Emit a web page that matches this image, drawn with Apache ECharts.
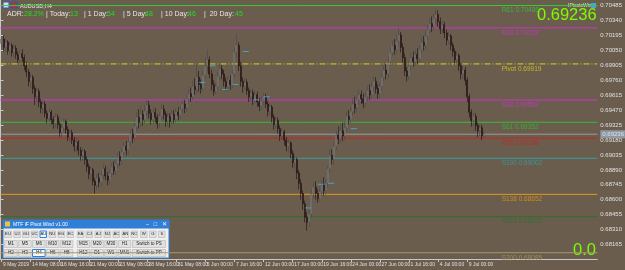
<!DOCTYPE html>
<html><head><meta charset="utf-8">
<script src="https://cdn.jsdelivr.net/npm/echarts@6/dist/echarts.min.js"></script>
<style>html,body{margin:0;padding:0;background:#6b5d4d}#c{width:625px;height:270px}</style>
</head><body><div id="c"></div>
<script>
// H4 bars: [open, close, low, high]
const ohlc = [
[0.7012,0.7016,0.7008,0.7019],[0.7016,0.7008,0.7004,0.7020],[0.7008,0.7013,0.7003,0.7017],[0.7013,0.7005,0.7001,0.7015],
[0.7005,0.7010,0.7002,0.7014],[0.7010,0.7003,0.6999,0.7012],[0.7003,0.7007,0.6999,0.7011],[0.7007,0.7001,0.6997,0.7010],
[0.7001,0.6996,0.6993,0.7004],[0.6996,0.7002,0.6993,0.7006],[0.7002,0.6998,0.6994,0.7006],[0.6998,0.6990,0.6986,0.7001],
[0.6990,0.6984,0.6979,0.6994],[0.6984,0.6975,0.6970,0.6987],[0.6975,0.6979,0.6968,0.6983],[0.6979,0.6968,0.6963,0.6981],
[0.6968,0.6960,0.6952,0.6971],[0.6960,0.6965,0.6955,0.6969],[0.6965,0.6955,0.6950,0.6968],[0.6955,0.6949,0.6944,0.6958],
[0.6949,0.6953,0.6943,0.6957],[0.6953,0.6944,0.6940,0.6956],[0.6944,0.6939,0.6934,0.6947],[0.6939,0.6945,0.6935,0.6949],
[0.6945,0.6938,0.6933,0.6947],[0.6938,0.6934,0.6929,0.6941],[0.6934,0.6940,0.6930,0.6944],[0.6940,0.6933,0.6929,0.6943],
[0.6933,0.6925,0.6921,0.6936],[0.6925,0.6930,0.6921,0.6934],[0.6930,0.6936,0.6926,0.6939],[0.6936,0.6928,0.6924,0.6938],
[0.6928,0.6921,0.6917,0.6931],[0.6921,0.6925,0.6916,0.6928],[0.6925,0.6918,0.6914,0.6928],[0.6918,0.6912,0.6907,0.6921],
[0.6912,0.6916,0.6906,0.6920],[0.6916,0.6908,0.6903,0.6918],[0.6908,0.6903,0.6898,0.6911],[0.6903,0.6907,0.6898,0.6911],
[0.6907,0.6899,0.6894,0.6909],[0.6899,0.6892,0.6887,0.6902],[0.6892,0.6885,0.6880,0.6895],[0.6885,0.6889,0.6879,0.6893],
[0.6889,0.6878,0.6874,0.6891],[0.6878,0.6874,0.6866,0.6881],[0.6874,0.6881,0.6870,0.6885],[0.6881,0.6877,0.6872,0.6886],
[0.6877,0.6884,0.6873,0.6888],[0.6884,0.6890,0.6880,0.6895],[0.6890,0.6883,0.6879,0.6893],[0.6883,0.6879,0.6874,0.6887],
[0.6879,0.6886,0.6875,0.6890],[0.6886,0.6892,0.6882,0.6896],[0.6892,0.6888,0.6884,0.6897],[0.6888,0.6895,0.6884,0.6899],
[0.6895,0.6902,0.6891,0.6906],[0.6902,0.6898,0.6893,0.6907],[0.6898,0.6906,0.6894,0.6910],[0.6906,0.6912,0.6902,0.6916],
[0.6912,0.6908,0.6903,0.6917],[0.6908,0.6916,0.6904,0.6920],[0.6916,0.6924,0.6912,0.6928],[0.6924,0.6920,0.6915,0.6929],
[0.6920,0.6931,0.6917,0.6935],[0.6931,0.6940,0.6927,0.6945],[0.6940,0.6935,0.6929,0.6948],[0.6935,0.6943,0.6931,0.6951],
[0.6943,0.6938,0.6932,0.6947],[0.6938,0.6946,0.6934,0.6952],[0.6946,0.6952,0.6941,0.6957],[0.6952,0.6944,0.6939,0.6956],
[0.6944,0.6938,0.6933,0.6948],[0.6938,0.6945,0.6934,0.6950],[0.6945,0.6940,0.6935,0.6949],[0.6940,0.6934,0.6929,0.6943],
[0.6934,0.6941,0.6930,0.6945],[0.6941,0.6948,0.6937,0.6953],[0.6948,0.6943,0.6938,0.6952],[0.6943,0.6936,0.6931,0.6946],
[0.6936,0.6941,0.6932,0.6945],[0.6941,0.6936,0.6930,0.6944],[0.6936,0.6943,0.6933,0.6947],[0.6943,0.6938,0.6934,0.6947],
[0.6938,0.6945,0.6935,0.6949],[0.6945,0.6942,0.6937,0.6950],[0.6942,0.6948,0.6939,0.6952],[0.6948,0.6953,0.6944,0.6956],
[0.6953,0.6949,0.6944,0.6957],[0.6949,0.6958,0.6946,0.6962],[0.6958,0.6963,0.6953,0.6967],[0.6963,0.6960,0.6955,0.6969],
[0.6960,0.6970,0.6957,0.6976],[0.6970,0.6967,0.6962,0.6978],[0.6967,0.6979,0.6963,0.6993],[0.6979,0.6972,0.6965,0.6985],
[0.6972,0.6968,0.6963,0.6977],[0.6968,0.6981,0.6965,0.6985],[0.6981,0.6990,0.6977,0.6998],[0.6990,0.6996,0.6984,0.7006],
[0.6996,0.6982,0.6978,0.6999],[0.6982,0.6972,0.6966,0.6986],[0.6972,0.6965,0.6961,0.6976],[0.6965,0.6970,0.6962,0.6974],
[0.6970,0.6980,0.6966,0.6984],[0.6980,0.6987,0.6976,0.6993],[0.6987,0.6982,0.6977,0.6991],[0.6982,0.6975,0.6970,0.6986],
[0.6975,0.6970,0.6966,0.6979],[0.6970,0.6976,0.6965,0.6980],[0.6976,0.6972,0.6967,0.6981],[0.6972,0.6982,0.6968,0.6986],
[0.6982,0.7003,0.6979,0.7008],[0.7003,0.7010,0.6998,0.7021],[0.7010,0.6990,0.6985,0.7013],[0.6990,0.6975,0.6970,0.6994],
[0.6975,0.6970,0.6964,0.6979],[0.6970,0.6974,0.6966,0.6978],[0.6974,0.6966,0.6962,0.6977],[0.6966,0.6960,0.6955,0.6969],
[0.6960,0.6964,0.6956,0.6968],[0.6964,0.6957,0.6952,0.6967],[0.6957,0.6962,0.6953,0.6966],[0.6962,0.6955,0.6950,0.6965],
[0.6955,0.6951,0.6946,0.6959],[0.6951,0.6956,0.6947,0.6960],[0.6956,0.6960,0.6952,0.6964],[0.6960,0.6953,0.6949,0.6963],
[0.6953,0.6946,0.6941,0.6956],[0.6946,0.6950,0.6942,0.6954],[0.6950,0.6940,0.6935,0.6952],[0.6940,0.6933,0.6928,0.6943],
[0.6933,0.6937,0.6929,0.6941],[0.6937,0.6929,0.6924,0.6940],[0.6929,0.6922,0.6917,0.6932],[0.6922,0.6926,0.6918,0.6930],
[0.6926,0.6918,0.6913,0.6928],[0.6918,0.6912,0.6907,0.6921],[0.6912,0.6915,0.6906,0.6919],[0.6915,0.6905,0.6900,0.6917],
[0.6905,0.6896,0.6891,0.6908],[0.6896,0.6899,0.6888,0.6903],[0.6899,0.6886,0.6880,0.6901],[0.6886,0.6876,0.6870,0.6889],
[0.6876,0.6866,0.6860,0.6880],[0.6866,0.6856,0.6850,0.6869],[0.6856,0.6843,0.6838,0.6859],[0.6843,0.6838,0.6830,0.6848],
[0.6838,0.6846,0.6834,0.6850],[0.6846,0.6866,0.6842,0.6870],[0.6866,0.6872,0.6861,0.6877],[0.6872,0.6866,0.6860,0.6878],
[0.6866,0.6861,0.6857,0.6870],[0.6861,0.6868,0.6858,0.6872],[0.6868,0.6874,0.6864,0.6879],[0.6874,0.6869,0.6864,0.6882],
[0.6869,0.6876,0.6865,0.6880],[0.6876,0.6890,0.6872,0.6893],[0.6890,0.6903,0.6886,0.6908],[0.6903,0.6899,0.6894,0.6909],
[0.6899,0.6912,0.6895,0.6916],[0.6912,0.6923,0.6908,0.6927],[0.6923,0.6919,0.6914,0.6931],[0.6919,0.6927,0.6915,0.6933],
[0.6927,0.6922,0.6917,0.6935],[0.6922,0.6930,0.6918,0.6936],[0.6930,0.6941,0.6926,0.6946],[0.6941,0.6938,0.6933,0.6947],
[0.6938,0.6946,0.6934,0.6950],[0.6946,0.6953,0.6942,0.6958],[0.6953,0.6949,0.6944,0.6960],[0.6949,0.6957,0.6945,0.6962],
[0.6957,0.6962,0.6952,0.6967],[0.6962,0.6958,0.6953,0.6966],[0.6958,0.6954,0.6949,0.6963],[0.6954,0.6960,0.6950,0.6964],
[0.6960,0.6966,0.6956,0.6971],[0.6966,0.6962,0.6957,0.6972],[0.6962,0.6970,0.6958,0.6975],[0.6970,0.6975,0.6965,0.6980],
[0.6975,0.6968,0.6963,0.6979],[0.6968,0.6963,0.6958,0.6972],[0.6963,0.6970,0.6959,0.6974],[0.6970,0.6979,0.6966,0.6983],
[0.6979,0.6986,0.6975,0.6991],[0.6986,0.6982,0.6977,0.6992],[0.6982,0.6994,0.6978,0.6998],[0.6994,0.7003,0.6990,0.7008],
[0.7003,0.7010,0.6999,0.7015],[0.7010,0.7006,0.7001,0.7016],[0.7006,0.7014,0.7002,0.7020],[0.7014,0.7020,0.7010,0.7027],
[0.7020,0.7008,0.7003,0.7023],[0.7008,0.6998,0.6993,0.7012],[0.6998,0.6985,0.6980,0.7002],[0.6985,0.6980,0.6975,0.6989],
[0.6980,0.6990,0.6976,0.6994],[0.6990,0.6998,0.6986,0.7003],[0.6998,0.6994,0.6989,0.7004],[0.6994,0.7001,0.6990,0.7006],
[0.7001,0.6997,0.6992,0.7007],[0.6997,0.7006,0.6993,0.7010],[0.7006,0.7013,0.7002,0.7018],[0.7013,0.7010,0.7005,0.7019],
[0.7010,0.7019,0.7006,0.7024],[0.7019,0.7025,0.7015,0.7030],[0.7025,0.7031,0.7021,0.7036],[0.7031,0.7028,0.7023,0.7038],
[0.7028,0.7036,0.7024,0.7041],[0.7036,0.7040,0.7031,0.7045],[0.7040,0.7033,0.7028,0.7044],[0.7033,0.7026,0.7021,0.7037],
[0.7026,0.7030,0.7022,0.7034],[0.7030,0.7022,0.7017,0.7033],[0.7022,0.7015,0.7010,0.7025],[0.7015,0.7019,0.7011,0.7023],
[0.7019,0.7010,0.7005,0.7021],[0.7010,0.7004,0.6999,0.7013],[0.7004,0.6996,0.6991,0.7007],[0.6996,0.7000,0.6991,0.7004],
[0.7000,0.6990,0.6985,0.7002],[0.6990,0.6982,0.6977,0.6993],[0.6982,0.6986,0.6977,0.6990],[0.6986,0.6976,0.6971,0.6989],
[0.6976,0.6960,0.6955,0.6979],[0.6960,0.6945,0.6940,0.6963],[0.6945,0.6937,0.6931,0.6948],[0.6937,0.6941,0.6932,0.6944],
[0.6941,0.6932,0.6927,0.6944],[0.6932,0.6927,0.6921,0.6935],[0.6927,0.6930,0.6922,0.6934],[0.6930,0.6922,0.6918,0.6933],
[0.6922,0.69236,0.6920,0.6927]
];
// short cyan marks: [bar, price]
const sessionMarks = [[95,0.6974],[100,0.6990],[106,0.6967],[111,0.6972],[116,0.7004],[121,0.6957],[126,0.6960],
  [146,0.6852],[152,0.6875],[157,0.6876],[168,0.6929]];
const levelNames  = ['R61','R38','Pivot','S38','S61','S78','S100','S138','S161','S200'];
const levelValues = [0.70486,0.70269,0.69919,0.69569,0.69352,0.69198,0.69002,0.68652,0.68435,0.68085];
const levelColors = ['#33cc33','#cc33cc','#d8d020','#cc33cc','#33bb33','#cc2222','#33a3a3','#e09a1a','#2f6f2f','#a89868'];
const yTicks = [0.70485,0.70340,0.70195,0.70050,0.69905,0.69760,0.69615,0.69470,0.69325,0.69180,0.69035,0.68890,0.68745,0.68600,0.68455,0.68310,0.68165];
const timeLabels = ['9 May 2019','14 May 08:00','16 May 16:00','21 May 00:00','23 May 08:00','28 May 16:00','31 May 08:00','5 Jun 00:00','7 Jun 16:00','12 Jun 00:00','17 Jun 00:00','19 Jun 16:00','24 Jun 00:00','27 Jun 00:00','1 Jul 16:00','4 Jul 00:00','9 Jul 00:00'];
const timeLabelBars = [0,14,28,42,56,70,84,98,112,126,140,154,168,182,196,210,224];
const bid = 0.69236;
const adrLabels = ['ADR:','| Today:','| 1 Day:','| 5 Day:','| 10 Day:','|  20 Day:'];
const adrValues = ['28.2%','13','54','48','46','45'];
const symbolTitle = 'AUDUSD,H4';
const panelTitle = 'MTF iF Pivot Wind v1.00';
const pairButtons = ['EU','UJ','GU','UC','AU','NU','EG','EC','EA','CJ','AJ','NJ','AC','AN','NC','W','G','S'];
const tfRow2 = ['M1','M5','M6','M10','M12','M15','M20','M30','H1','Switch to PS'];
const tfRow3 = ['H2','H3','H4','H6','H8','H12','D1','W1','MN1','Switch to PP'];

const plotRight = 599, plotBottom = 259, lastBarX = 486;
const slots = Math.round((ohlc.length - 0.5) * plotRight / lastBarX);
const cats = [];
for (let i = 0; i < slots; i++) cats.push(i);
const labelMap = {};
timeLabelBars.forEach((b, k) => labelMap[b] = timeLabels[k]);
const FONT = 'Liberation Sans';
const chart = echarts.init(document.getElementById('c'));

const series = [{
  type: 'candlestick', data: ohlc, barWidth: 1.5, z: 3,
  itemStyle: {color: '#e4e4e4', color0: '#6e1414', borderColor: '#4a4a4a', borderColor0: '#141010', borderWidth: 0.6}
}, {
  type: 'scatter', data: sessionMarks, symbol: 'rect', symbolSize: [6, 1], symbolOffset: [3, 0], silent: true, z: 4,
  itemStyle: {color: '#3fb4ea'}
}];
levelValues.forEach((v, k) => series.push({
  type: 'line', xAxisIndex: 1, data: [[0, v], [1, v]], symbol: 'none', silent: true, z: 2,
  lineStyle: {color: levelColors[k], width: 1, type: levelNames[k] === 'Pivot' ? [6, 2, 1, 2] : 'solid'}
}));
series.push({type: 'line', xAxisIndex: 1, data: [[0, bid], [1, bid]], symbol: 'none', silent: true, z: 2,
  lineStyle: {color: '#9a9a9a', width: 1}});
series.push({
  type: 'scatter', xAxisIndex: 1, symbolSize: 0, silent: true, z: 4,
  data: levelValues.map((v, k) => ({value: [503 / plotRight, v],
    label: {show: true, position: [0, 1.5], align: 'left', verticalAlign: 'top', fontSize: 6.5, fontFamily: FONT,
      color: levelColors[k], formatter: levelNames[k] + ' ' + v.toFixed(5)}}))
});
series.push({
  type: 'scatter', xAxisIndex: 1, symbolSize: 0, silent: true, z: 5,
  data: [{value: [1, bid], label: {show: true, position: [3, -4], align: 'left', verticalAlign: 'top',
    fontSize: 6, fontFamily: FONT, color: '#f4f4f4', backgroundColor: '#98a8bc', padding: [1, 2, 1, 2],
    formatter: bid.toFixed(5)}}]
});

const graphic = [
  {type: 'rect', shape: {x: 3, y: 2, width: 6, height: 6}, style: {fill: '#d8d8f0', stroke: '#3050c0'}},
  {type: 'rect', shape: {x: 11, y: 2, width: 6, height: 6}, style: {fill: '#c03030', stroke: '#3050c0'}},
  {type: 'text', x: 20, y: 3, style: {text: symbolTitle, fontSize: 5.5, fill: '#f0f0f0', fontFamily: FONT}},
  {type: 'text', x: 568, y: 3, style: {text: 'IPivotsWind', fontSize: 5, fill: '#e8e8e8', fontFamily: FONT}},
  {type: 'rect', shape: {x: 591, y: 3, width: 5, height: 5}, style: {fill: '#4aa0e0'}},
  {type: 'text', x: 537, y: 7, style: {text: bid.toFixed(5), fontSize: 16.5, fill: '#7cfc00', fontFamily: FONT}},
  {type: 'text', x: 573, y: 242, style: {text: '0.0', fontSize: 16.5, fill: '#7cfc00', fontFamily: FONT}}
];
const adrX = [7, 46, 84, 123, 161, 204];
const adrVX = [24, 70, 107, 145, 188, 235];
adrLabels.forEach((l, k) => {
  graphic.push({type: 'text', x: adrX[k], y: 10.5, style: {text: l, fontSize: 7, fill: '#e6e6e6', fontFamily: FONT}});
  graphic.push({type: 'text', x: adrVX[k], y: 10.5, style: {text: adrValues[k], fontSize: 7, fill: '#22dd22', fontFamily: FONT}});
});
const px = 3, py = 220, pw = 166, ph = 38;
graphic.push({type: 'rect', shape: {x: px, y: py, width: pw, height: ph}, style: {fill: '#f0f0f0', stroke: '#2f7fd8', lineWidth: 1}});
graphic.push({type: 'rect', shape: {x: px, y: py, width: pw, height: 8.5}, style: {fill: '#2f7fd8'}});
graphic.push({type: 'rect', shape: {x: px + 2, y: py + 1.5, width: 5, height: 5}, style: {fill: '#f0c040'}});
graphic.push({type: 'text', x: px + 10, y: py + 1.8, style: {text: panelTitle, fontSize: 5, fill: '#ffffff', fontFamily: FONT}});
graphic.push({type: 'text', x: 146, y: py + 1, style: {text: '–   □   ✕', fontSize: 5.5, fill: '#ffffff', fontFamily: FONT}});
const row1X = [4.7, 13.7, 22.5, 31.3, 40, 49, 58, 67, 77.3, 86, 95, 104, 113, 122, 131, 140.5, 149.5, 158.5];
pairButtons.forEach((t, k) => {
  const hi = t === 'AU';
  graphic.push({type: 'rect', shape: {x: row1X[k], y: 231, width: 6.6, height: 6.5},
    style: {fill: hi ? '#f4f8ff' : '#e1e1e1', stroke: hi ? '#2f7fd8' : '#b4b4b4', lineWidth: hi ? 1 : 0.6}});
  graphic.push({type: 'text', x: row1X[k] + 3.3, y: 234.3, style: {text: t, fontSize: 4.2, fill: '#222',
    fontFamily: FONT, align: 'center', verticalAlign: 'middle'}});
});
const rowBX = [4.7, 18.6, 32.5, 46.4, 60.3, 77.3, 91, 104.7, 118.4, 132.5];
const rowBW = [12.6, 12.6, 12.6, 12.6, 12.6, 12.4, 12.4, 12.4, 12.4, 33];
[[tfRow2, 240.5], [tfRow3, 249.5]].forEach(([row, y]) => {
  row.forEach((t, k) => {
    const hi = t === 'H4';
    graphic.push({type: 'rect', shape: {x: rowBX[k], y: y, width: rowBW[k], height: 7},
      style: {fill: hi ? '#f4f8ff' : '#e1e1e1', stroke: hi ? '#2f7fd8' : '#b4b4b4', lineWidth: hi ? 1 : 0.6}});
    graphic.push({type: 'text', x: rowBX[k] + rowBW[k] / 2, y: y + 3.7, style: {text: t, fontSize: 4.5, fill: '#222',
      fontFamily: FONT, align: 'center', verticalAlign: 'middle'}});
  });
});

chart.setOption({
  backgroundColor: '#6b5d4d',
  animation: false,
  textStyle: {fontFamily: FONT},
  grid: {left: 0, right: 625 - plotRight, top: 0, bottom: 270 - plotBottom},
  xAxis: [{
    type: 'category', data: cats, boundaryGap: true,
    axisLine: {lineStyle: {color: '#c8c8c8', width: 1}},
    axisTick: {show: true, alignWithLabel: true, length: 3, lineStyle: {color: '#c8c8c8'},
      interval: (i) => labelMap[i] !== undefined},
    axisLabel: {interval: (i) => labelMap[i] !== undefined, formatter: (v, i) => labelMap[i] || '',
      showMinLabel: true, hideOverlap: false,
      align: 'left', fontSize: 5, color: '#e0e0e0', margin: 3, padding: [0, 0, 0, 1.5]},
    splitLine: {show: false}
  }, {
    type: 'value', min: 0, max: 1, show: false
  }],
  yAxis: {
    type: 'value', position: 'right', min: 0.68024, max: 0.70540,
    axisLine: {show: true, lineStyle: {color: '#c8c8c8'}},
    axisTick: {show: true, length: 3, customValues: yTicks, lineStyle: {color: '#c8c8c8'}},
    axisLabel: {customValues: yTicks, formatter: (v) => v.toFixed(5), fontSize: 6, color: '#e0e0e0', margin: 3},
    splitLine: {show: false}
  },
  series: series,
  graphic: graphic
});
</script></body></html>
